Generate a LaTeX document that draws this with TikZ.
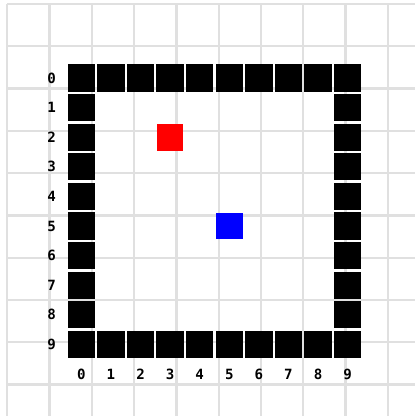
\documentclass[tikz,border=0pt]{standalone}
\usepackage{fontspec}
\newfontfamily\pixfont{DejaVu Sans Mono}
\usetikzlibrary{positioning}
\definecolor{gridgray}{RGB}{224,224,224}
\definecolor{wallblack}{RGB}{0,0,0}
\definecolor{agentred}{RGB}{255,0,0}
\definecolor{goalblue}{RGB}{0,0,255}
\tikzset{
  gridline/.style={draw=gridgray, line width=1.6pt},
  coordlabel/.style={font=\pixfont\bfseries\fontsize{9.5}{9.5}\selectfont, inner sep=0pt}
}
\begin{document}
\begin{tikzpicture}[x=0.7cm, y=0.7cm]
\useasboundingbox (-0.247,0.135) rectangle (13.77,-13.92);
\fill[white] (-0.247,0.135) rectangle (13.77,-13.92);
% Background grid
\begin{scope}
\clip (-0.247,0.135) rectangle (13.77,-13.92);
\draw[gridline] (0,0) grid (14,-14);
\end{scope}
% Walls
\foreach \i in {0,...,9} {
  \fill[wallblack] (\i+2.04,-2.04) rectangle (\i+2.96,-2.96);
  \fill[wallblack] (\i+2.04,-11.04) rectangle (\i+2.96,-11.96);
  \fill[wallblack] (2.04,-\i-2.04) rectangle (2.96,-\i-2.96);
  \fill[wallblack] (11.04,-\i-2.04) rectangle (11.96,-\i-2.96);
}
% Agent and goal
\fill[agentred] (5.05,-4.05) rectangle (5.95,-4.95);
\fill[goalblue] (7.05,-7.05) rectangle (7.95,-7.95);
% Row and column numbers
\foreach \i in {0,...,9} {
  \node[coordlabel] (row\i) at (1.5,-\i-2.5) {\i};
  \node[coordlabel] (col\i) at (\i+2.5,-12.5) {\i};
}
\end{tikzpicture}
\end{document}
